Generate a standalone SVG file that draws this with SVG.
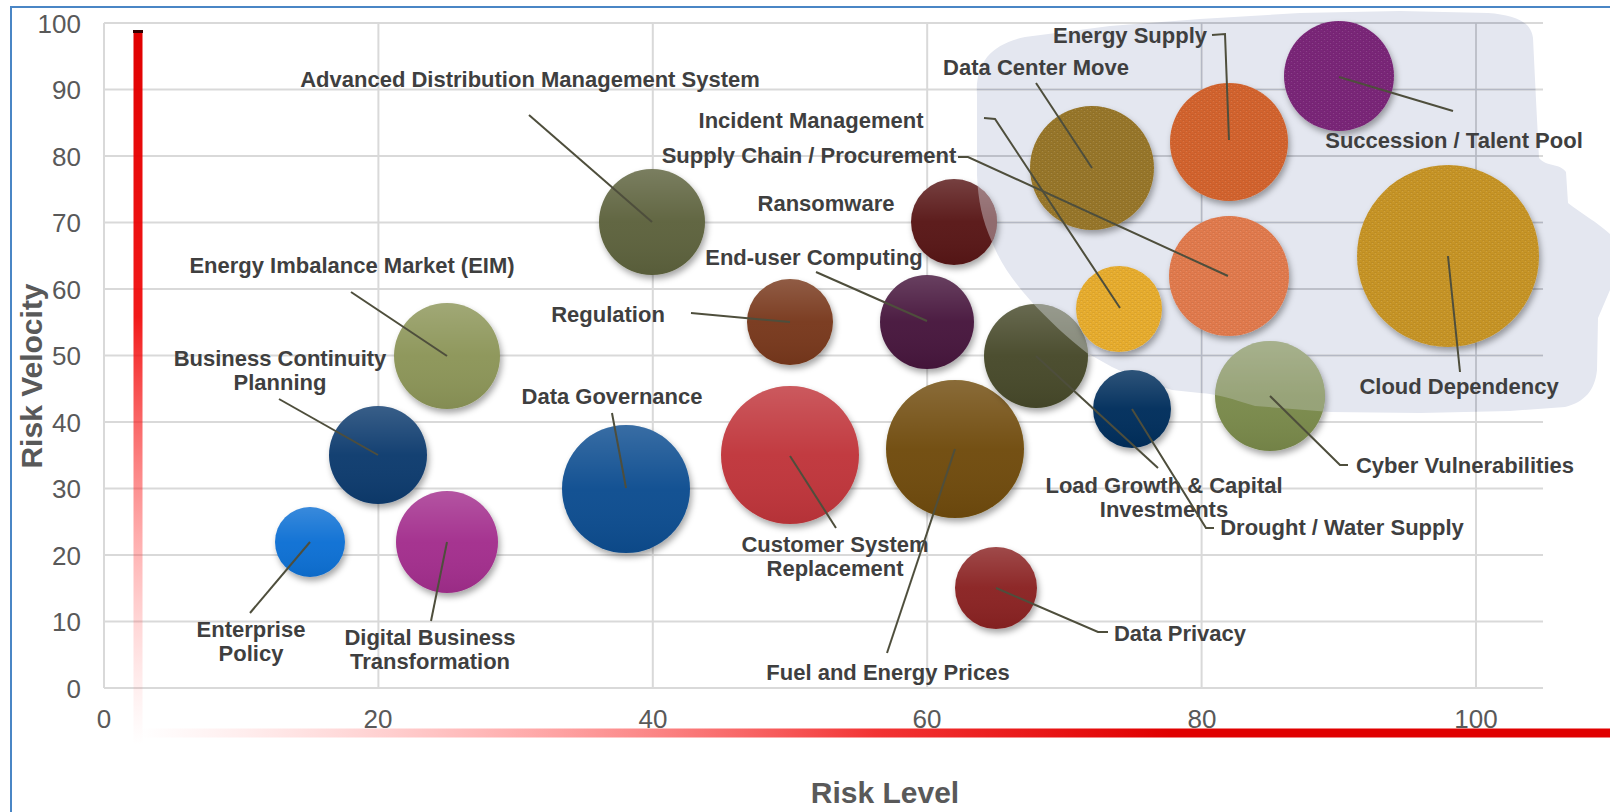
<svg xmlns="http://www.w3.org/2000/svg" width="1610" height="812" viewBox="0 0 1610 812">
<defs>
<style>
.lbl{font-family:"Liberation Sans",Arial,sans-serif;font-weight:bold;font-size:22px;fill:#3f3f3f}
.tick{font-family:"Liberation Sans",Arial,sans-serif;font-size:26px;fill:#595959}
.ttl{font-family:"Liberation Sans",Arial,sans-serif;font-weight:bold;font-size:30px;fill:#595959}
.grid{stroke:#d9d9d9;stroke-width:2;fill:none}
.gridIn{stroke:#b4b8c4;stroke-width:1.5;fill:none}
.bub{filter:url(#shadow)}
.sheen{fill:url(#sheen)}
.tex{fill:#e6e9f2;opacity:.38}
.speck{fill:url(#speck)}
.blob{fill:#e4e7f0}
#connectors path{fill:none;stroke:#4e4e3c;stroke-width:2}
</style>
<filter id="shadow" x="-30%" y="-30%" width="170%" height="170%">
<feDropShadow dx="2" dy="4" stdDeviation="3" flood-color="#000" flood-opacity="0.35"/>
</filter>
<linearGradient id="sheen" x1="0" y1="0" x2="0" y2="1">
<stop offset="0" stop-color="#fff" stop-opacity="0.18"/>
<stop offset="0.5" stop-color="#fff" stop-opacity="0.03"/>
<stop offset="1" stop-color="#000" stop-opacity="0.06"/>
</linearGradient>
<linearGradient id="redV" gradientUnits="userSpaceOnUse" x1="0" y1="31" x2="0" y2="745">
<stop offset="0" stop-color="#e00000"/>
<stop offset="0.4" stop-color="#f00000" stop-opacity="0.9"/>
<stop offset="0.75" stop-color="#ff4040" stop-opacity="0.35"/>
<stop offset="1" stop-color="#ff8080" stop-opacity="0"/>
</linearGradient>
<linearGradient id="redH" gradientUnits="userSpaceOnUse" x1="140" y1="0" x2="1610" y2="0">
<stop offset="0" stop-color="#ff8080" stop-opacity="0"/>
<stop offset="0.25" stop-color="#ff5050" stop-opacity="0.45"/>
<stop offset="0.5" stop-color="#f01010" stop-opacity="0.85"/>
<stop offset="0.7" stop-color="#e00000"/>
<stop offset="1" stop-color="#e00000"/>
</linearGradient>
<pattern id="speck" width="6" height="4" patternUnits="userSpaceOnUse">
<rect x="0" y="0" width="3" height="1" fill="#000" fill-opacity="0.05"/>
<rect x="3" y="2" width="3" height="1" fill="#000" fill-opacity="0.05"/>
<rect x="1" y="1" width="1" height="1" fill="#fff" fill-opacity="0.12"/>
<rect x="4" y="3" width="1" height="1" fill="#fff" fill-opacity="0.12"/>
</pattern>
<clipPath id="blobClip"><path d="M977,95 C975,62 992,44 1025,37 L1110,26 L1200,19 L1300,13 L1400,11 L1488,13 C1516,15 1531,22 1533,38 L1536,100 L1539,158 C1546,167 1560,163 1566,172 L1568,203 C1582,214 1597,222 1610,234 L1610,290 L1598,318 L1597,370 C1595,390 1585,402 1565,407 L1510,411 L1420,413 L1330,412 L1255,406 C1232,399 1218,394 1200,393 L1172,390 L1140,380 L1112,367 L1087,353 C1068,338 1048,320 1030,300 C1012,280 1000,262 992,242 C982,220 978,200 977,175 Z"/></clipPath>
</defs>

<rect width="1610" height="812" fill="#ffffff"/>
<path d="M11,812 L11,7 L1610,7" fill="none" stroke="#4a86c5" stroke-width="2"/>

<path id="shaded-area" class="blob" d="M977,95 C975,62 992,44 1025,37 L1110,26 L1200,19 L1300,13 L1400,11 L1488,13 C1516,15 1531,22 1533,38 L1536,100 L1539,158 C1546,167 1560,163 1566,172 L1568,203 C1582,214 1597,222 1610,234 L1610,290 L1598,318 L1597,370 C1595,390 1585,402 1565,407 L1510,411 L1420,413 L1330,412 L1255,406 C1232,399 1218,394 1200,393 L1172,390 L1140,380 L1112,367 L1087,353 C1068,338 1048,320 1030,300 C1012,280 1000,262 992,242 C982,220 978,200 977,175 Z"/>

<g id="grid">
<path class="grid" d="M104,688H1543M104,621.5H1543M104,555H1543M104,488.5H1543M104,422H1543M104,355.5H1543M104,289H1543M104,222.5H1543M104,156H1543M104,89.5H1543M104,23H1543M104,23V688M378.4,23V688M652.8,23V688M927.2,23V688M1201.6,23V688M1476,23V688"/>
<path class="gridIn" clip-path="url(#blobClip)" d="M104,688H1543M104,621.5H1543M104,555H1543M104,488.5H1543M104,422H1543M104,355.5H1543M104,289H1543M104,222.5H1543M104,156H1543M104,89.5H1543M104,23H1543M104,23V688M378.4,23V688M652.8,23V688M927.2,23V688M1201.6,23V688M1476,23V688"/>
</g>

<g id="axes">
<rect x="133.5" y="31" width="9" height="714" fill="url(#redV)"/>
<rect x="133" y="30" width="10" height="3" fill="#330000"/>
<rect x="140" y="728.5" width="1470" height="9" fill="url(#redH)"/>
<g class="tick" text-anchor="end">
<text x="81" y="32.5">100</text>
<text x="81" y="99">90</text>
<text x="81" y="165.5">80</text>
<text x="81" y="232">70</text>
<text x="81" y="298.5">60</text>
<text x="81" y="365">50</text>
<text x="81" y="431.5">40</text>
<text x="81" y="498">30</text>
<text x="81" y="564.5">20</text>
<text x="81" y="631">10</text>
<text x="81" y="697.5">0</text>
</g>
<g class="tick" text-anchor="middle">
<text x="104" y="728">0</text>
<text x="378" y="728">20</text>
<text x="653" y="728">40</text>
<text x="927" y="728">60</text>
<text x="1202" y="728">80</text>
<text x="1476" y="728">100</text>
</g>
<text class="ttl" x="885" y="803" text-anchor="middle">Risk Level</text>
<text class="ttl" transform="translate(42,376) rotate(-90)" text-anchor="middle">Risk Velocity</text>
</g>

<g class="lbl" text-anchor="middle">
<g id="enterprise-policy">
<circle class="bub" cx="310" cy="542" r="35" fill="#1070d4"/><circle class="sheen" cx="310" cy="542" r="35"/>
<text x="251" y="637">Enterprise</text><text x="251" y="661">Policy</text>
</g>
<g id="digital-business-transformation">
<circle class="bub" cx="447" cy="542" r="51" fill="#a32f8d"/><circle class="sheen" cx="447" cy="542" r="51"/>
<text x="430" y="645">Digital Business</text><text x="430" y="669">Transformation</text>
</g>
<g id="business-continuity-planning">
<circle class="bub" cx="378" cy="455" r="49" fill="#0b3a6e"/><circle class="sheen" cx="378" cy="455" r="49"/>
<text x="280" y="366">Business Continuity</text><text x="280" y="390">Planning</text>
</g>
<g id="energy-imbalance-market">
<circle class="bub" cx="447" cy="356" r="53" fill="#8c9558"/><circle class="sheen" cx="447" cy="356" r="53"/>
<text x="352" y="273">Energy Imbalance Market (EIM)</text>
</g>
<g id="data-governance">
<circle class="bub" cx="626" cy="489" r="64" fill="#0a4d90"/><circle class="sheen" cx="626" cy="489" r="64"/>
<text x="612" y="404">Data Governance</text>
</g>
<g id="advanced-distribution-management-system">
<circle class="bub" cx="652" cy="222" r="53" fill="#5d623c"/><circle class="sheen" cx="652" cy="222" r="53"/>
<text x="530" y="87">Advanced Distribution Management System</text>
</g>
<g id="regulation">
<circle class="bub" cx="790" cy="322" r="43" fill="#78391a"/><circle class="sheen" cx="790" cy="322" r="43"/>
<text x="608" y="322">Regulation</text>
</g>
<g id="customer-system-replacement">
<circle class="bub" cx="790" cy="455" r="69" fill="#c0363a"/><circle class="sheen" cx="790" cy="455" r="69"/>
<text x="835" y="552">Customer System</text><text x="835" y="576">Replacement</text>
</g>
<g id="fuel-and-energy-prices">
<circle class="bub" cx="955" cy="449" r="69" fill="#6f4c08"/><circle class="sheen" cx="955" cy="449" r="69"/>
<text x="888" y="680">Fuel and Energy Prices</text>
</g>
<g id="ransomware">
<circle class="bub" cx="954" cy="222" r="43" fill="#581818"/><circle class="sheen" cx="954" cy="222" r="43"/>
<circle class="tex" clip-path="url(#blobClip)" cx="954" cy="222" r="43"/>
<text x="826" y="211">Ransomware</text>
</g>
<g id="end-user-computing">
<circle class="bub" cx="927" cy="322" r="47" fill="#46173e"/><circle class="sheen" cx="927" cy="322" r="47"/>
<text x="814" y="265">End-user Computing</text>
</g>
<g id="data-privacy">
<circle class="bub" cx="996" cy="588" r="41" fill="#8a2424"/><circle class="sheen" cx="996" cy="588" r="41"/>
<text x="1180" y="641">Data Privacy</text>
</g>
<g id="load-growth-capital-investments">
<circle class="bub" cx="1036" cy="356" r="52" fill="#464a2a"/><circle class="sheen" cx="1036" cy="356" r="52"/>
<circle class="tex" clip-path="url(#blobClip)" cx="1036" cy="356" r="52"/>
<text x="1164" y="493">Load Growth &amp; Capital</text><text x="1164" y="517">Investments</text>
</g>
<g id="drought-water-supply">
<circle class="bub" cx="1132" cy="409" r="39" fill="#062f5c"/><circle class="sheen" cx="1132" cy="409" r="39"/>
<text x="1342" y="535">Drought / Water Supply</text>
</g>
<g id="cyber-vulnerabilities">
<circle class="bub" cx="1270" cy="396" r="55" fill="#7a8a4c"/><circle class="sheen" cx="1270" cy="396" r="55"/>
<circle class="tex" clip-path="url(#blobClip)" cx="1270" cy="396" r="55" style="opacity:.25"/>
<text x="1465" y="473">Cyber Vulnerabilities</text>
</g>
<g id="incident-management">
<circle class="bub" cx="1119" cy="309" r="43" fill="#e6ac2e"/><circle class="speck" cx="1119" cy="309" r="43"/>
<text x="811" y="128">Incident Management</text>
</g>
<g id="data-center-move">
<circle class="bub" cx="1092" cy="168" r="62" fill="#977629"/><circle class="speck" cx="1092" cy="168" r="62"/>
<text x="1036" y="75">Data Center Move</text>
</g>
<g id="energy-supply">
<circle class="bub" cx="1229" cy="142" r="59" fill="#d2642f"/><circle class="speck" cx="1229" cy="142" r="59"/>
<text x="1130" y="43">Energy Supply</text>
</g>
<g id="supply-chain-procurement">
<circle class="bub" cx="1229" cy="276" r="60" fill="#e07a4e"/><circle class="speck" cx="1229" cy="276" r="60"/>
<text x="809" y="163">Supply Chain / Procurement</text>
</g>
<g id="succession-talent-pool">
<circle class="bub" cx="1339" cy="76" r="55" fill="#7a2878"/><circle class="speck" cx="1339" cy="76" r="55"/>
<text x="1454" y="148">Succession / Talent Pool</text>
</g>
<g id="cloud-dependency">
<circle class="bub" cx="1448" cy="256" r="91" fill="#c69428"/><circle class="speck" cx="1448" cy="256" r="91"/>
<text x="1459" y="394">Cloud Dependency</text>
</g>
</g>

<g id="connectors">
<path d="M529,115 L652,222"/>
<path d="M351,292 L447,356"/>
<path d="M279,399 L378,455"/>
<path d="M250,613 L310,542"/>
<path d="M431,621 L447,542"/>
<path d="M612,413 L626,488"/>
<path d="M691,313 L790,322"/>
<path d="M816,272 L927,321"/>
<path d="M790,456 L836,528"/>
<path d="M955,449 L887,653"/>
<path d="M996,588 L1098,632 L1108,632"/>
<path d="M1036,356 L1158,468"/>
<path d="M1132,409 L1206,528 L1214,528"/>
<path d="M1270,396 L1340,465 L1348,465"/>
<path d="M1448,256 L1460,372"/>
<path d="M1339,77 L1453,111"/>
<path d="M1212,35 L1225,34 L1229,140"/>
<path d="M1036,83 L1092,168"/>
<path d="M984,118 L995,119 L1120,308"/>
<path d="M958,157 L968,157 L1228,276"/>
</g>
</svg>
